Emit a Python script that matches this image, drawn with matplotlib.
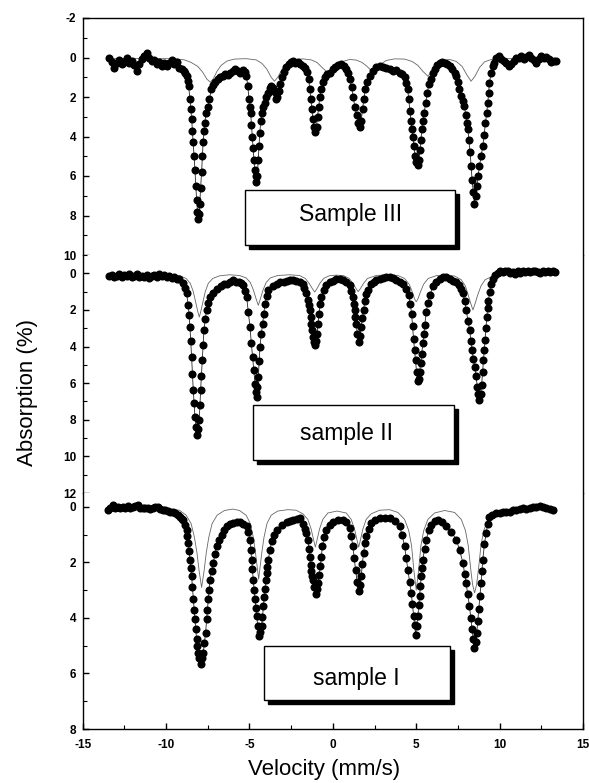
import matplotlib
matplotlib.use('Agg')
import matplotlib.pyplot as plt
from matplotlib.patches import Rectangle
from matplotlib.ticker import MultipleLocator

plt.rcParams['font.family'] = ['Liberation Sans', 'DejaVu Sans']
plt.rcParams['axes.unicode_minus'] = False

# ---- sample III (top panel) : measured points ----
vel_III = [-13.4, -13.25, -13.1, -12.95, -12.8, -12.65, -12.5, -12.35, -12.2, -12.05,
           -11.9, -11.77, -11.6, -11.45, -11.3, -11.17, -11.0, -10.85, -10.7, -10.55,
           -10.4, -10.25, -10.1, -9.97, -9.8, -9.65, -9.5, -9.35, -9.2, -9.07,
           -8.95, -8.87, -8.77, -8.7, -8.65, -8.57, -8.52, -8.47, -8.42, -8.38,
           -8.32, -8.27, -8.22, -8.17, -8.12, -8.08, -8.03, -7.98, -7.93, -7.87,
           -7.82, -7.78, -7.72, -7.68, -7.6, -7.5, -7.4, -7.28, -7.17, -7.05,
           -6.9, -6.75, -6.6, -6.45, -6.3, -6.15, -6.0, -5.85, -5.7, -5.55,
           -5.4, -5.25, -5.18, -5.1, -5.03, -4.98, -4.93, -4.88, -4.83, -4.78,
           -4.73, -4.68, -4.63, -4.58, -4.53, -4.48, -4.43, -4.38, -4.32, -4.25,
           -4.18, -4.08, -3.98, -3.88, -3.78, -3.68, -3.58, -3.48, -3.4, -3.33,
           -3.25, -3.15, -3.05, -2.95, -2.8, -2.65, -2.5, -2.38, -2.25, -2.1,
           -1.95, -1.8, -1.65, -1.55, -1.45, -1.38, -1.32, -1.26, -1.2, -1.13,
           -1.05, -0.98, -0.92, -0.85, -0.78, -0.7, -0.6, -0.48, -0.35, -0.18,
           0.0, 0.15, 0.3, 0.5, 0.65, 0.8, 0.92, 1.02, 1.12, 1.22,
           1.32, 1.42, 1.52, 1.62, 1.7, 1.78, 1.86, 1.95, 2.05, 2.2,
           2.4, 2.6, 2.8, 3.0, 3.2, 3.4, 3.6, 3.8, 4.0, 4.15,
           4.3, 4.4, 4.48, 4.55, 4.62, 4.68, 4.74, 4.8, 4.86, 4.93,
           5.0, 5.08, 5.15, 5.22, 5.28, 5.34, 5.4, 5.48, 5.56, 5.66,
           5.76, 5.86, 5.98, 6.1, 6.25, 6.4, 6.55, 6.7, 6.85, 7.0,
           7.15, 7.3, 7.4, 7.5, 7.59, 7.7, 7.8, 7.89, 7.96, 8.03,
           8.09, 8.16, 8.23, 8.29, 8.35, 8.42, 8.49, 8.56, 8.63, 8.71,
           8.79, 8.89, 8.99, 9.07, 9.15, 9.22, 9.29, 9.34, 9.39, 9.48,
           9.58, 9.69, 9.8, 9.95, 10.1, 10.25, 10.4, 10.55, 10.7, 10.85,
           11.0, 11.15, 11.3, 11.45, 11.6, 11.75, 11.9, 12.05, 12.2, 12.35,
           12.5, 12.65, 12.8, 12.95, 13.1, 13.25, 13.4]
abs_III = [0.0, 0.25, 0.55, 0.3, 0.15, 0.35, 0.25, 0.05, 0.3, 0.2,
           0.4, 0.7, 0.35, 0.1, -0.1, -0.24, 0.05, 0.2, 0.15, 0.35,
           0.25, 0.45, 0.3, 0.44, 0.3, 0.15, 0.35, 0.25, 0.55, 0.6,
           0.7, 0.8, 0.95, 1.2, 1.45, 2.1, 2.6, 3.1, 3.7, 4.3,
           5.0, 5.7, 6.5, 7.2, 7.8, 8.2, 7.9, 7.4, 6.6, 5.8,
           5.0, 4.3, 3.7, 3.3, 2.8, 2.5, 2.1, 1.6, 1.4, 1.25,
           1.1, 1.0, 0.95, 0.85, 0.9, 0.8, 0.7, 0.6, 0.7, 0.8,
           0.65, 0.75, 0.95, 1.45, 2.1, 2.5, 2.8, 3.4, 4.0, 4.6,
           5.2, 5.7, 6.0, 6.3, 6.0, 5.2, 4.5, 3.8, 3.2, 2.8,
           2.5, 2.3, 2.0, 1.8, 1.55, 1.45, 1.55, 1.75, 2.1, 2.0,
           1.7, 1.35, 1.0, 0.75, 0.5, 0.35, 0.25, 0.2, 0.3, 0.25,
           0.35, 0.45, 0.55, 0.75, 1.1, 1.6, 2.1, 2.6, 3.1, 3.5,
           3.75, 3.5, 3.0, 2.5, 2.0, 1.6, 1.25, 1.0, 0.85, 0.78,
           0.6, 0.5, 0.4, 0.35, 0.45, 0.6, 0.8, 1.1, 1.5, 2.0,
           2.5, 2.9, 3.3, 3.5, 3.2, 2.6, 2.1, 1.6, 1.25, 0.95,
           0.7, 0.5, 0.45, 0.5, 0.55, 0.6, 0.7, 0.65, 0.78, 0.85,
           1.0, 1.28, 1.6, 2.1, 2.7, 3.2, 3.6, 4.0, 4.5, 5.0,
           5.3, 5.45, 5.2, 4.7, 4.2, 3.6, 3.2, 2.8, 2.3, 1.8,
           1.35, 1.1, 0.8, 0.6, 0.4, 0.27, 0.25, 0.3, 0.35, 0.44,
           0.6, 0.8, 0.95, 1.25, 1.6, 1.95, 2.2, 2.46, 2.9, 3.3,
           3.6, 4.2, 4.8, 5.5, 6.2, 6.8, 7.4, 7.0, 6.5, 6.0,
           5.5, 5.0, 4.5, 3.9, 3.3, 2.8, 2.3, 1.8, 1.3, 0.8,
           0.45, 0.27, 0.05, -0.07, 0.1, 0.2, 0.3, 0.44, 0.35, 0.2,
           0.05, 0.0, -0.1, 0.1, -0.05, -0.15, 0.0, 0.15, 0.3, 0.1,
           -0.1, 0.05, -0.05, 0.1, 0.25, 0.19, 0.2]
# sub-spectrum line (sample III)
sub_vel_III = [-13.4, -9.5, -8.9, -8.5, -8.1, -7.8, -7.55, -7.34, -7.15, -6.95,
               -6.7, -6.35, -5.9, -5.2, -4.6, -4.25, -3.95, -3.7, -3.5, -3.3,
               -3.05, -2.75, -2.35, -1.8, -1.3, -0.95, -0.65, -0.4, -0.2, 0.0,
               0.25, 0.6, 1.0, 1.4, 1.75, 2.05, 2.25, 2.4, 2.58, 2.85,
               3.2, 3.7, 4.3, 4.75, 5.1, 5.4, 5.7, 5.95, 6.25, 6.6,
               7.0, 7.4, 7.75, 8.05, 8.29, 8.52, 8.8, 9.1, 9.5, 10.2, 13.4]
sub_abs_III = [0.05, 0.06, 0.12, 0.25, 0.45, 0.75, 1.1, 1.25, 1.05, 0.7,
               0.4, 0.18, 0.08, 0.06, 0.12, 0.3, 0.6, 1.0, 1.2, 1.0,
               0.6, 0.3, 0.12, 0.07, 0.12, 0.25, 0.5, 0.7, 0.8, 0.7,
               0.45, 0.2, 0.1, 0.13, 0.25, 0.45, 0.62, 0.7, 0.6, 0.35,
               0.15, 0.07, 0.08, 0.2, 0.4, 0.7, 0.95, 0.7, 0.35, 0.15,
               0.1, 0.2, 0.45, 0.9, 1.2, 0.95, 0.5, 0.22, 0.1, 0.06, 0.05]

# ---- sample II (middle panel) ----
vel_II = [-13.4, -13.25, -13.1, -12.95, -12.8, -12.65, -12.5, -12.35, -12.2, -12.05,
          -11.9, -11.75, -11.6, -11.45, -11.3, -11.15, -11.0, -10.85, -10.7, -10.55,
          -10.4, -10.25, -10.1, -9.95, -9.8, -9.65, -9.5, -9.35, -9.2, -9.0,
          -8.85, -8.77, -8.67, -8.62, -8.57, -8.52, -8.47, -8.42, -8.37, -8.32,
          -8.27, -8.2, -8.13, -8.07, -8.01, -7.97, -7.93, -7.88, -7.83, -7.78,
          -7.73, -7.65, -7.57, -7.47, -7.37, -7.2, -6.97, -6.7, -6.5, -6.37,
          -6.15, -5.97, -5.8, -5.65, -5.5, -5.37, -5.27, -5.17, -5.07, -4.97,
          -4.89, -4.81, -4.74, -4.67, -4.62, -4.57, -4.52, -4.47, -4.42, -4.37,
          -4.29, -4.21, -4.14, -4.07, -3.97, -3.87, -3.6, -3.37, -3.15, -2.95,
          -2.75, -2.57, -2.4, -2.2, -1.95, -1.8, -1.7, -1.59, -1.5, -1.44,
          -1.39, -1.34, -1.29, -1.24, -1.19, -1.14, -1.09, -1.02, -0.95, -0.89,
          -0.83, -0.76, -0.69, -0.55, -0.39, -0.2, 0.0, 0.2, 0.4, 0.6,
          0.8, 1.0, 1.1, 1.2, 1.25, 1.3, 1.35, 1.4, 1.47, 1.55,
          1.62, 1.7, 1.77, 1.84, 1.92, 2.0, 2.1, 2.3, 2.45, 2.6,
          2.8, 3.0, 3.2, 3.4, 3.6, 3.8, 4.0, 4.2, 4.4, 4.55,
          4.65, 4.72, 4.78, 4.84, 4.9, 4.96, 5.02, 5.08, 5.14, 5.2,
          5.27, 5.33, 5.4, 5.46, 5.52, 5.6, 5.7, 5.82, 6.0, 6.2,
          6.4, 6.6, 6.8, 7.0, 7.2, 7.4, 7.55, 7.7, 7.8, 7.9,
          8.0, 8.1, 8.2, 8.28, 8.35, 8.42, 8.5, 8.58, 8.66, 8.72,
          8.79, 8.86, 8.92, 8.98, 9.03, 9.08, 9.13, 9.18, 9.23, 9.28,
          9.33, 9.4, 9.49, 9.6, 9.75, 9.9, 10.05, 10.2, 10.35, 10.5,
          10.65, 10.8, 10.95, 11.1, 11.25, 11.4, 11.55, 11.7, 11.85, 12.0,
          12.15, 12.3, 12.45, 12.6, 12.75, 12.9, 13.05, 13.2, 13.35]
abs_II = [0.15, 0.1, 0.2, 0.15, 0.05, 0.2, 0.1, 0.15, 0.05, 0.2,
          0.15, 0.05, 0.2, 0.15, 0.2, 0.1, 0.25, 0.15, 0.1, 0.2,
          0.05, 0.15, 0.1, 0.2, 0.15, 0.25, 0.2, 0.3, 0.3, 0.55,
          0.8, 1.1, 1.75, 2.3, 2.93, 3.7, 4.57, 5.5, 6.4, 7.1,
          7.85, 8.4, 8.85, 8.5, 8.0, 7.2, 6.4, 5.6, 4.75, 3.9,
          3.1, 2.5, 2.0, 1.6, 1.3, 1.05, 0.84, 0.7, 0.6, 0.57,
          0.45, 0.38, 0.45, 0.5, 0.55, 0.65, 0.95, 1.3, 2.1, 2.93,
          3.8, 4.57, 5.3, 6.03, 6.5, 6.76, 6.2, 5.67, 4.8, 4.0,
          3.3, 2.75, 2.2, 1.66, 1.25, 0.93, 0.7, 0.57, 0.5, 0.45,
          0.4, 0.38, 0.35, 0.4, 0.47, 0.6, 0.8, 1.1, 1.45, 1.75,
          2.02, 2.4, 2.75, 3.1, 3.5, 3.75, 3.93, 3.7, 3.3, 2.75,
          2.2, 1.7, 1.3, 0.9, 0.66, 0.5, 0.4, 0.33, 0.29, 0.35,
          0.5, 0.66, 0.95, 1.3, 1.65, 2.02, 2.4, 2.75, 3.3, 3.75,
          3.4, 2.93, 2.45, 2.0, 1.5, 1.15, 0.93, 0.6, 0.45, 0.38,
          0.3, 0.25, 0.22, 0.2, 0.28, 0.35, 0.45, 0.57, 0.85, 1.2,
          1.7, 2.2, 2.9, 3.6, 4.2, 4.75, 5.4, 5.9, 5.8, 5.4,
          4.9, 4.4, 3.8, 3.3, 2.8, 2.1, 1.6, 1.2, 0.7, 0.47,
          0.3, 0.2, 0.2, 0.3, 0.4, 0.5, 0.65, 0.85, 1.1, 1.5,
          2.0, 2.6, 3.1, 3.7, 4.2, 4.7, 5.1, 5.6, 6.2, 6.6,
          6.9, 6.6, 6.1, 5.4, 4.75, 4.2, 3.66, 3.0, 2.4, 1.9,
          1.5, 1.0, 0.6, 0.3, 0.1, 0.0, -0.1, -0.05, -0.15, -0.1,
          0.0, -0.05, 0.05, -0.1, 0.0, -0.1, -0.05, -0.15, -0.05, -0.1,
          -0.15, -0.05, 0.0, -0.1, -0.05, -0.1, -0.05, -0.1, -0.05]
sub_vel_II = [-13.4, -10.0, -9.2, -8.8, -8.55, -8.37, -8.22, -8.11, -8.01, -7.91,
              -7.8, -7.65, -7.47, -7.2, -6.8, -6.2, -5.6, -5.2, -4.95, -4.77,
              -4.6, -4.47, -4.35, -4.18, -4.0, -3.75, -3.3, -2.6, -2.0, -1.65,
              -1.42, -1.22, -1.09, -0.96, -0.78, -0.55, -0.2, 0.22, 0.65, 0.98,
              1.2, 1.4, 1.52, 1.64, 1.84, 2.08, 2.6, 3.2, 3.9, 4.3,
              4.58, 4.78, 4.9, 5.0, 5.1, 5.24, 5.44, 5.72, 6.2, 6.8,
              7.3, 7.7, 7.95, 8.12, 8.27, 8.4, 8.53, 8.68, 8.88, 9.13,
              9.6, 10.3, 13.4]
sub_abs_II = [0.05, 0.07, 0.12, 0.28, 0.55, 1.0, 1.6, 2.05, 2.39, 2.05,
              1.6, 1.0, 0.55, 0.28, 0.14, 0.08, 0.12, 0.25, 0.5, 0.9,
              1.4, 1.75, 1.4, 0.9, 0.5, 0.25, 0.12, 0.08, 0.12, 0.28,
              0.55, 0.85, 1.02, 0.85, 0.55, 0.28, 0.13, 0.1, 0.13, 0.28,
              0.55, 0.85, 1.0, 0.85, 0.55, 0.28, 0.12, 0.08, 0.12, 0.28,
              0.6, 1.05, 1.4, 1.56, 1.4, 1.05, 0.6, 0.28, 0.13, 0.1,
              0.15, 0.35, 0.7, 1.2, 1.65, 2.0, 1.65, 1.2, 0.7, 0.35,
              0.15, 0.07, 0.05]

# ---- sample I (bottom panel) ----
vel_I = [-13.5, -13.35, -13.2, -13.05, -12.9, -12.75, -12.6, -12.45, -12.3, -12.15,
         -12.0, -11.85, -11.7, -11.55, -11.4, -11.25, -11.1, -10.95, -10.8, -10.65,
         -10.5, -10.35, -10.2, -10.05, -9.9, -9.75, -9.6, -9.45, -9.3, -9.15,
         -9.05, -8.98, -8.87, -8.77, -8.72, -8.67, -8.62, -8.57, -8.52, -8.47,
         -8.42, -8.37, -8.32, -8.27, -8.22, -8.17, -8.12, -8.07, -8.0, -7.93,
         -7.85, -7.77, -7.7, -7.63, -7.57, -7.52, -7.47, -7.42, -7.37, -7.27,
         -7.17, -7.07, -6.97, -6.82, -6.67, -6.52, -6.37, -6.17, -5.97, -5.77,
         -5.57, -5.37, -5.17, -5.07, -4.97, -4.92, -4.87, -4.82, -4.77, -4.72,
         -4.67, -4.62, -4.57, -4.5, -4.41, -4.34, -4.27, -4.22, -4.17, -4.12,
         -4.07, -4.02, -3.97, -3.92, -3.87, -3.77, -3.67, -3.52, -3.37, -3.07,
         -2.77, -2.57, -2.37, -2.17, -1.97, -1.8, -1.68, -1.59, -1.5, -1.44,
         -1.39, -1.34, -1.29, -1.24, -1.19, -1.12, -1.03, -0.96, -0.89, -0.82,
         -0.75, -0.69, -0.63, -0.52, -0.39, -0.2, 0.0, 0.3, 0.6, 0.8,
         1.0, 1.1, 1.2, 1.28, 1.36, 1.46, 1.56, 1.63, 1.7, 1.77,
         1.84, 1.92, 2.0, 2.15, 2.3, 2.55, 2.8, 3.1, 3.4, 3.7,
         4.0, 4.15, 4.3, 4.4, 4.5, 4.6, 4.7, 4.77, 4.84, 4.9,
         4.96, 5.03, 5.1, 5.15, 5.2, 5.25, 5.3, 5.35, 5.4, 5.5,
         5.6, 5.75, 5.9, 6.1, 6.3, 6.55, 6.8, 7.1, 7.4, 7.6,
         7.8, 7.9, 7.99, 8.09, 8.19, 8.27, 8.35, 8.42, 8.49, 8.56,
         8.63, 8.69, 8.75, 8.82, 8.89, 8.94, 8.99, 9.09, 9.19, 9.29,
         9.39, 9.55, 9.79, 10.0, 10.2, 10.4, 10.6, 10.8, 11.0, 11.2,
         11.4, 11.6, 11.8, 12.0, 12.2, 12.4, 12.6, 12.8, 13.0, 13.2]
abs_I = [0.1, 0.05, -0.05, 0.05, 0.0, 0.05, 0.0, 0.05, -0.02, 0.05,
         0.0, -0.03, -0.05, 0.03, 0.05, 0.03, 0.05, 0.07, 0.03, 0.0,
         0.02, 0.08, 0.1, 0.12, 0.15, 0.17, 0.2, 0.22, 0.28, 0.35,
         0.42, 0.47, 0.65, 0.82, 1.05, 1.3, 1.6, 1.9, 2.2, 2.5,
         2.9, 3.33, 3.7, 4.05, 4.4, 4.77, 5.0, 5.25, 5.45, 5.67,
         5.45, 5.25, 4.9, 4.53, 4.05, 3.7, 3.33, 3.0, 2.62, 2.3,
         2.02, 1.7, 1.42, 1.2, 1.0, 0.85, 0.7, 0.63, 0.58, 0.55,
         0.53, 0.6, 0.7, 0.9, 1.18, 1.55, 1.9, 2.25, 2.62, 3.0,
         3.33, 3.65, 3.93, 4.3, 4.65, 4.5, 4.29, 3.95, 3.57, 3.25,
         2.97, 2.65, 2.38, 2.15, 1.9, 1.55, 1.24, 1.0, 0.82, 0.65,
         0.53, 0.5, 0.47, 0.44, 0.41, 0.6, 0.8, 0.94, 1.2, 1.5,
         1.8, 2.1, 2.3, 2.5, 2.65, 2.9, 3.15, 2.95, 2.74, 2.45,
         2.14, 1.8, 1.42, 1.1, 0.82, 0.65, 0.53, 0.47, 0.47, 0.55,
         0.76, 1.05, 1.42, 1.85, 2.26, 2.7, 3.04, 2.8, 2.5, 2.05,
         1.66, 1.3, 1.06, 0.8, 0.58, 0.47, 0.41, 0.4, 0.41, 0.52,
         0.7, 1.0, 1.42, 1.85, 2.26, 2.7, 3.09, 3.5, 3.93, 4.25,
         4.6, 4.3, 3.93, 3.55, 3.21, 2.85, 2.5, 2.2, 1.9, 1.5,
         1.18, 0.85, 0.64, 0.52, 0.47, 0.55, 0.7, 0.9, 1.18, 1.55,
         2.02, 2.4, 2.74, 3.15, 3.57, 4.0, 4.41, 4.75, 5.1, 4.85,
         4.53, 4.1, 3.69, 3.2, 2.74, 2.3, 1.9, 1.35, 0.94, 0.6,
         0.35, 0.28, 0.23, 0.22, 0.2, 0.18, 0.17, 0.12, 0.1, 0.08,
         0.05, 0.06, 0.03, 0.02, -0.01, -0.03, 0.02, 0.05, 0.08, 0.1]
sub_vel_I = [-13.4, -10.0, -9.2, -8.8, -8.5, -8.3, -8.15, -8.02, -7.87, -7.72,
             -7.59, -7.44, -7.24, -6.94, -6.5, -6.0, -5.6, -5.2, -4.95, -4.77,
             -4.65, -4.55, -4.45, -4.35, -4.25, -4.13, -3.95, -3.7, -3.3, -2.7,
             -2.2, -1.8, -1.5, -1.3, -1.15, -1.05, -0.95, -0.8, -0.6, -0.3,
             0.25, 0.8, 1.1, 1.3, 1.45, 1.55, 1.65, 1.8, 2.0, 2.3,
             2.8, 3.4, 3.9, 4.3, 4.55, 4.72, 4.86, 5.0, 5.14, 5.28,
             5.45, 5.7, 6.1, 6.7, 7.3, 7.7, 7.95, 8.12, 8.26, 8.38,
             8.5, 8.62, 8.74, 8.88, 9.05, 9.3, 9.7, 10.3, 13.4]
sub_abs_I = [0.05, 0.07, 0.12, 0.3, 0.6, 1.1, 1.65, 2.3, 2.9, 2.3,
             1.65, 1.1, 0.6, 0.3, 0.13, 0.08, 0.13, 0.3, 0.6, 1.1,
             1.6, 2.1, 2.6, 2.1, 1.6, 1.1, 0.6, 0.3, 0.15, 0.1,
             0.12, 0.25, 0.45, 0.8, 1.2, 1.45, 1.2, 0.8, 0.45, 0.22,
             0.15, 0.22, 0.45, 0.8, 1.2, 1.45, 1.2, 0.8, 0.45, 0.25,
             0.12, 0.1, 0.2, 0.45, 0.85, 1.4, 2.3, 3.0, 2.3, 1.4,
             0.85, 0.45, 0.22, 0.13, 0.2, 0.45, 0.85, 1.4, 2.2, 2.8,
             3.1, 2.8, 2.2, 1.4, 0.85, 0.45, 0.2, 0.09, 0.05]

panels = [
    (vel_III, abs_III, sub_vel_III, sub_abs_III, (10, -2), [-2, 0, 2, 4, 6, 8, 10]),
    (vel_II, abs_II, sub_vel_II, sub_abs_II, (12, -1), [0, 2, 4, 6, 8, 10, 12]),
    (vel_I, abs_I, sub_vel_I, sub_abs_I, (8, -0.5), [0, 2, 4, 6, 8]),
]
labels = ['Sample III', 'sample II', 'sample I']

W, H = 589, 783
fig = plt.figure(figsize=(W / 100, H / 100), dpi=100)

# axes extents in pixels (top, bottom)
rows = [(18, 255), (255, 493), (493, 729)]
left_px, right_px = 82.7, 583

axes = []
for i, (v, a, sv, sa, ylim, yt) in enumerate(panels):
    top, bot = rows[i]
    ax = fig.add_axes([left_px / W, 1 - bot / H, (right_px - left_px) / W, (bot - top) / H])
    ax.plot(sv, sa, color='0.4', lw=0.6, zorder=2)
    ax.plot(v, a, color='0.15', lw=0.6, zorder=3)
    ax.plot(v, a, 'o', color='black', ms=5.8, mec='black', mew=0, zorder=4)
    ax.set_xlim(-15, 15)
    ax.set_ylim(*ylim)
    ax.set_yticks(yt)
    ax.yaxis.set_minor_locator(MultipleLocator(1))
    ax.tick_params(axis='y', which='major', direction='in', length=4, width=1,
                   labelsize=8.5, pad=4.5)
    ax.tick_params(axis='y', which='minor', direction='in', length=3, width=0.8)
    for lbl in ax.get_yticklabels():
        lbl.set_fontweight('bold')
    for s in ax.spines.values():
        s.set_linewidth(1.0)
    axes.append(ax)

axes[0].spines['bottom'].set_visible(False)
axes[1].spines['top'].set_visible(False)
axes[1].spines['bottom'].set_visible(False)
axes[2].spines['top'].set_visible(False)
for ax in axes[:2]:
    ax.tick_params(axis='x', which='both', bottom=False, labelbottom=False)

axb = axes[2]
axb.set_xticks([-15, -10, -5, 0, 5, 10, 15])
axb.xaxis.set_minor_locator(MultipleLocator(2.5))
axb.tick_params(axis='x', which='major', direction='in', length=4, width=1,
                labelsize=8.5, pad=7)
axb.tick_params(axis='x', which='minor', direction='in', length=3, width=0.8)
for lbl in axb.get_xticklabels():
    lbl.set_fontweight('bold')

# labelled boxes with drop shadow (pixel coords: left, top, right, bottom, text centre)
boxes = [(245, 190, 455, 245, 351, 214),
         (253, 405, 454, 460, 347, 433),
         (264, 646, 450, 700, 356, 679)]
for (x0, y0, x1, y1, tx, ty), txt in zip(boxes, labels):
    sh = Rectangle(((x0 + 4) / W, 1 - (y1 + 4) / H), (x1 - x0) / W, (y1 - y0) / H,
                   transform=fig.transFigure, facecolor='black', edgecolor='black',
                   zorder=10)
    bx = Rectangle((x0 / W, 1 - y1 / H), (x1 - x0) / W, (y1 - y0) / H,
                   transform=fig.transFigure, facecolor='white', edgecolor='black',
                   lw=1.0, zorder=11)
    fig.add_artist(sh)
    fig.add_artist(bx)
    fig.text(tx / W, 1 - ty / H, txt, ha='center', va='center', fontsize=16.5, zorder=12)

fig.text(27.5 / W, 1 - 393 / H, 'Absorption (%)', rotation=90, ha='center', va='center',
         fontsize=16)
fig.text(324 / W, 1 - 770 / H, 'Velocity (mm/s)', ha='center', va='center', fontsize=16)

fig.savefig('out.png', dpi=100)
